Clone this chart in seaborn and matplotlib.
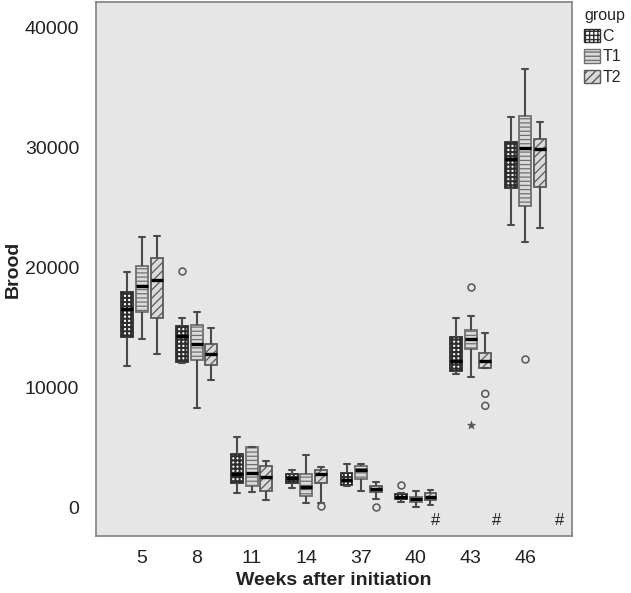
import matplotlib
matplotlib.use("Agg")
import pandas as pd
import matplotlib.pyplot as plt
import seaborn as sns
from matplotlib.patches import Patch

# === DATA ===
weeks = ["5", "8", "11", "14", "37", "40", "43", "46"]
groups = ["C", "T1", "T2"]

# per week: [whisker low, Q1, median, Q3, whisker high]
c_stats = [
    [11840, 14240, 16580, 17970, 19650],
    [12030, 12170, 14350, 15180, 15815],
    [1270, 2040, 2870, 4530, 5900],
    [1630, 2100, 2460, 2815, 3170],
    [1850, 1900, 2320, 2920, 3620],
    [520, 745, 940, 1130, 1270],
    [11150, 11430, 12250, 14190, 15815],
    [23520, 26640, 29000, 30440, 32540],
]
t1_stats = [
    [14100, 16310, 18460, 20150, 22520],
    [8300, 12310, 13640, 15210, 16290],
    [1300, 1820, 2950, 5050, 5050],
    [440, 1020, 1740, 2870, 4450],
    [1410, 2380, 3150, 3480, 3620],
    [80, 520, 745, 940, 1410],
    [10900, 13190, 14100, 14820, 15980],
    [22130, 25110, 29950, 32650, 36510],
]
t2_stats = [
    [12780, 15840, 18960, 20840, 22660],
    [10650, 11900, 12810, 13660, 15010],
    [660, 1430, 2590, 3480, 3890],
    [410, 2040, 2870, 3200, 3370],
    [745, 1320, 1600, 1820, 2130],
    [220, 640, 940, 1220, 1520],
    [11620, 11620, 12250, 12920, 14570],
    [23320, 26740, 29890, 30720, 32130],
]

# outliers (circles)
out_week = ["8", "14", "37", "40", "43", "43", "43", "46"]
out_group = ["C", "T2", "T2", "C", "T1", "T2", "T2", "T1"]
out_value = [19760, 140, 110, 1900, 18380, 9500, 8500, 12390]

# extreme values (stars)
ext_week = ["43"]
ext_group = ["T1"]
ext_value = [6870]

# "#" marks under these weeks
hash_weeks = ["40", "43", "46"]

# === STYLE ===
BG = "#e6e6e6"
fills = {"C": "#ffffff", "T1": "#dadada", "T2": "#dadada"}
edges = {"C": "#2e2e2e", "T1": "#707070", "T2": "#5a5a5a"}
hatches = {"C": "++++", "T1": "----", "T2": "////"}

sns.set_theme(style="white")
plt.rcParams['font.family'] = ['Liberation Sans', 'DejaVu Sans']
plt.rcParams['hatch.linewidth'] = 1.0

# === LONG FORM TABLES ===
rows = []
for g, stats in zip(groups, [c_stats, t1_stats, t2_stats]):
    for w, s in zip(weeks, stats):
        for v in s:
            rows.append((w, g, v))
df = pd.DataFrame(rows, columns=["week", "group", "brood"])
odf = pd.DataFrame({"week": out_week, "group": out_group, "brood": out_value})
edf = pd.DataFrame({"week": ext_week, "group": ext_group, "brood": ext_value})

fig = plt.figure(figsize=(6.31, 5.93), dpi=100)
ax = fig.add_axes([96 / 631, 57 / 593, 476 / 631, 534 / 593])
ax.set_facecolor(BG)

sns.boxplot(data=df, x="week", y="brood", hue="group", order=weeks, hue_order=groups,
            whis=(0, 100), width=0.8, gap=0.18, fliersize=0, saturation=1,
            palette=fills, linecolor="#4a4a4a", linewidth=1.3, legend=False,
            medianprops=dict(color="black", linewidth=2.4),
            whiskerprops=dict(color="#4a4a4a", linewidth=1.5),
            capprops=dict(color="#4a4a4a", linewidth=1.5),
            ax=ax)

# hatch each box according to its group (found from the box's dodge offset)
step = 0.8 / len(groups)
for p in ax.patches:
    xs = p.get_path().vertices[:, 0]
    cx = (xs.min() + xs.max()) / 2
    gi = int(round((cx - round(cx)) / step)) + 1
    g = groups[gi]
    p.set_hatch(hatches[g])
    p.set_edgecolor(edges[g])
    if hasattr(p, "set_hatch_linewidth"):
        p.set_hatch_linewidth(1.5 if g == "C" else 0.9)

sns.stripplot(data=odf, x="week", y="brood", hue="group", order=weeks, hue_order=groups,
              dodge=True, jitter=False, marker="o", size=5,
              palette={g: BG for g in groups}, edgecolor="#555555", linewidth=1.1,
              legend=False, ax=ax)
sns.stripplot(data=edf, x="week", y="brood", hue="group", order=weeks, hue_order=groups,
              dodge=True, jitter=False, marker="*", size=6,
              palette={g: "#555555" for g in groups}, edgecolor="#555555", linewidth=0.5,
              legend=False, ax=ax)

hash_off = [0.35, 0.48, 0.63]
for w, off in zip(hash_weeks, hash_off):
    ax.text(weeks.index(w) + off, -1080, "#", fontsize=12, ha="center", va="center",
            color="#222222")

# === AXES ===
ax.set_xlim(-0.84, 7.85)
ax.set_ylim(-2330, 42100)
ax.set_yticks([0, 10000, 20000, 30000, 40000])
ax.set_xticks(range(len(weeks)))
ax.set_xticklabels(weeks)
for s in ax.spines.values():
    s.set_color("#808080")
    s.set_linewidth(1.2)
ax.tick_params(axis="both", which="major", direction="out", color="#808080",
               width=1.2, labelsize=14, labelcolor="#222222")
ax.tick_params(axis="x", length=7, pad=3)
ax.tick_params(axis="y", length=8, pad=4)
ax.set_xlabel("Weeks after initiation", fontsize=14, fontweight="bold", color="#222222")
ax.set_ylabel("Brood", fontsize=14, fontweight="bold", color="#222222")
ax.xaxis.set_label_coords(0.5, -0.068)
ax.yaxis.set_label_coords(-0.155, 0.5)

# === LEGEND ===
handles = [Patch(facecolor=fills[g], edgecolor=edges[g], hatch=hatches[g], linewidth=1)
           for g in groups]
leg = fig.legend(handles, groups, title="group", loc="upper left",
                 bbox_to_anchor=(584 / 631, 1 - 8 / 593), frameon=False,
                 fontsize=11.5, title_fontsize=11.5, handlelength=1.0, handleheight=0.9,
                 handletextpad=0.15, labelspacing=0.35, borderpad=0, borderaxespad=0,
                 alignment="left")

fig.savefig("out.png", dpi=100)
